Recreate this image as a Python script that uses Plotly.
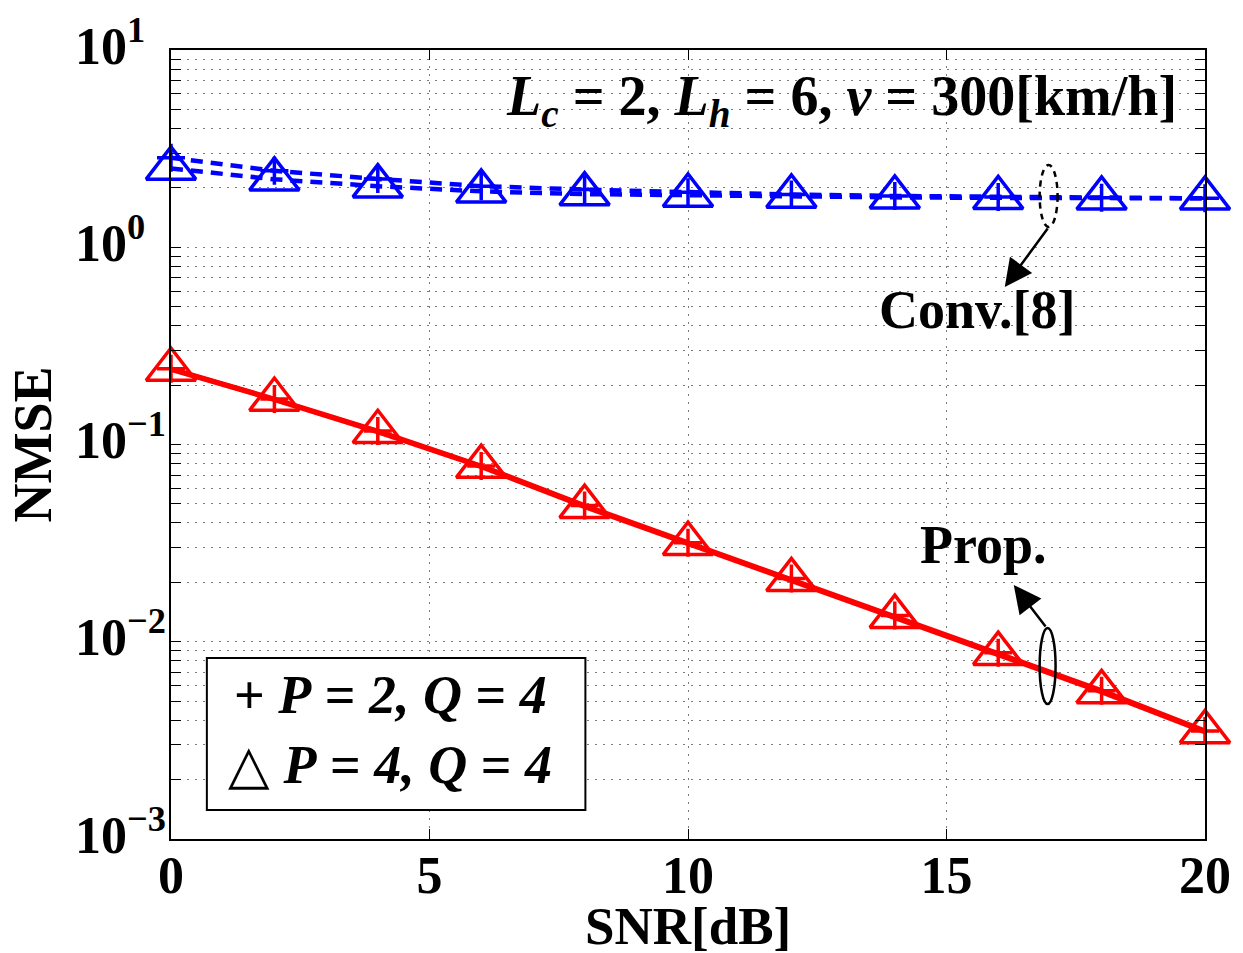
import math
import plotly.graph_objects as go

# ---------------- data ----------------
snr_db = [0, 2, 4, 6, 8, 10, 12, 14, 16, 18, 20]
prop_p2_q4 = [0.242, 0.170, 0.117, 0.0778, 0.0490, 0.0318, 0.0209, 0.0136, 0.0088, 0.00565, 0.00353]
prop_p4_q4 = [0.240, 0.169, 0.116, 0.0773, 0.0484, 0.0314, 0.0206, 0.0134, 0.0087, 0.00557, 0.00349]
conv_p2_q4 = [2.84, 2.44, 2.22, 2.04, 1.96, 1.90, 1.85, 1.82, 1.80, 1.78, 1.77]
conv_p4_q4 = [2.51, 2.21, 2.04, 1.92, 1.86, 1.83, 1.81, 1.79, 1.78, 1.77, 1.77]

x_ticks = [0, 5, 10, 15, 20]
y_major = [1e-3, 1e-2, 1e-1, 1e0, 1e1]
y_major_text = ["10<sup>\u22123</sup>", "10<sup>\u22122</sup>", "10<sup>\u22121</sup>",
                "10<sup>0</sup>", "10<sup>1</sup>"]
y_minor = [m * d for d in [1e-3, 1e-2, 1e-1, 1e0] for m in range(2, 10)]

FONT = "Liberation Serif"
BLUE = "#0000FF"
RED = "#FF0000"

# plot area in pixels
W, H = 1243, 953
L, R, T, B = 171, 1209, 50, 839


def px(x):
    return (x - L) / (R - L)


def py(y):
    return (B - y) / (B - T)


fig = go.Figure()

series = [
    (conv_p2_q4, BLUE, dict(dash="12px,8px", width=4.5), "cross-thin-open", 20),
    (conv_p4_q4, BLUE, dict(dash="12px,8px", width=4.5), "triangle-up-open", 43),
    (prop_p2_q4, RED, dict(width=5), "cross-thin-open", 20),
    (prop_p4_q4, RED, dict(width=5), "triangle-up-open", 43),
]
for yv, col, ln, sym, sz in series:
    fig.add_trace(go.Scatter(
        x=snr_db, y=yv, mode="lines+markers",
        line=dict(color=col, **ln),
        marker=dict(symbol=sym, size=sz, color=col, line=dict(color=col, width=3.5)),
        showlegend=False, cliponaxis=False,
    ))

GRID = dict(showgrid=True, gridcolor="#7a7a7a", griddash="1.5px,6.5px", gridwidth=1.2)
axis_common = dict(
    showline=True, linecolor="black", linewidth=1.5, mirror="allticks",
    ticks="inside", ticklen=10, tickwidth=1, tickcolor="black",
    zeroline=False,
    tickfont=dict(family=FONT, size=52, color="black", weight="bold"),
    **GRID,
)

fig.update_xaxes(
    range=[0, 20], tickmode="array", tickvals=x_ticks,
    ticklabelstandoff=-10, **axis_common,
)
fig.update_yaxes(
    type="log", range=[-3, 1], tickmode="array", tickvals=y_major,
    showticklabels=False,
    minor=dict(tickmode="array", tickvals=y_minor, ticks="inside", ticklen=10,
               tickcolor="black", **GRID),
    **axis_common,
)

shapes = [
    # legend box
    dict(type="rect", xref="paper", yref="paper", x0=px(207), x1=px(587),
         y0=py(810), y1=py(658), line=dict(color="black", width=2),
         fillcolor="white", layer="above"),
    # ellipse around conventional curves (dashed)
    dict(type="circle", xref="paper", yref="paper", x0=px(1043), x1=px(1061),
         y0=py(227), y1=py(165), line=dict(color="black", width=2.5, dash="6px,5px")),
    # ellipse around proposed curves
    dict(type="circle", xref="paper", yref="paper", x0=px(1043), x1=px(1059),
         y0=py(704), y1=py(628), line=dict(color="black", width=2.5)),
]

tfont = dict(family=FONT, size=54, color="black", weight="bold")
annotations = [
    dict(text="SNR[dB]", x=px(690), y=py(926), xref="paper", yref="paper",
         showarrow=False, font=dict(family=FONT, size=53, color="black", weight="bold"),
         xanchor="center", yanchor="middle"),
    dict(text="NMSE", x=px(32), y=py(445), xref="paper", yref="paper",
         showarrow=False, font=tfont, textangle=-90, xanchor="center", yanchor="middle"),
    dict(text="<i>L</i><sub><i>c</i></sub> = 2, <i>L</i><sub><i>h</i></sub> = 6, <i>v</i> = 300[km/h]",
         x=px(844), y=py(100), xref="paper", yref="paper", showarrow=False,
         font=dict(family=FONT, size=56, color="black", weight="bold"),
         xanchor="center", yanchor="middle"),
    dict(text="Conv.[8]", x=px(981), y=py(310), xref="paper", yref="paper",
         showarrow=False, font=tfont, xanchor="center", yanchor="middle"),
    dict(text="Prop.", x=px(987), y=py(545), xref="paper", yref="paper",
         showarrow=False, font=tfont, xanchor="center", yanchor="middle"),
    # arrows
    dict(text="", x=px(1008), y=py(287), xref="paper", yref="paper",
         ax=44, ay=-60, showarrow=True, arrowhead=2, arrowsize=2.2,
         arrowwidth=2.5, arrowcolor="black"),
    dict(text="", x=px(1017), y=py(585), xref="paper", yref="paper",
         ax=33, ay=43, showarrow=True, arrowhead=2, arrowsize=2.2,
         arrowwidth=2.5, arrowcolor="black"),
    # legend entries
    dict(text="+ <i>P</i> = <i>2, Q</i> = <i>4</i>", x=px(232), y=py(695),
         xref="paper", yref="paper", showarrow=False, font=tfont,
         xanchor="left", yanchor="middle"),
    dict(text="<span style='font-weight:normal'>\u25b3</span> <i>P</i> = <i>4, Q</i> = <i>4</i>",
         x=px(226), y=py(765),
         xref="paper", yref="paper", showarrow=False, font=tfont,
         xanchor="left", yanchor="middle"),
]

# y tick labels (left aligned, MATLAB-style)
for v, txt in zip(y_major, y_major_text):
    annotations.append(dict(
        text=txt, x=px(73), y=math.log10(v), xref="paper", yref="y",
        showarrow=False, xanchor="left", yanchor="middle", yshift=8,
        font=dict(family=FONT, size=52, color="black", weight="bold"),
    ))

fig.update_layout(
    width=W, height=H,
    margin=dict(l=L, r=W - R, t=T, b=H - B, pad=0),
    paper_bgcolor="white", plot_bgcolor="white",
    shapes=shapes, annotations=annotations,
    font=dict(family=FONT, color="black"),
)

fig.write_html("out.html")
